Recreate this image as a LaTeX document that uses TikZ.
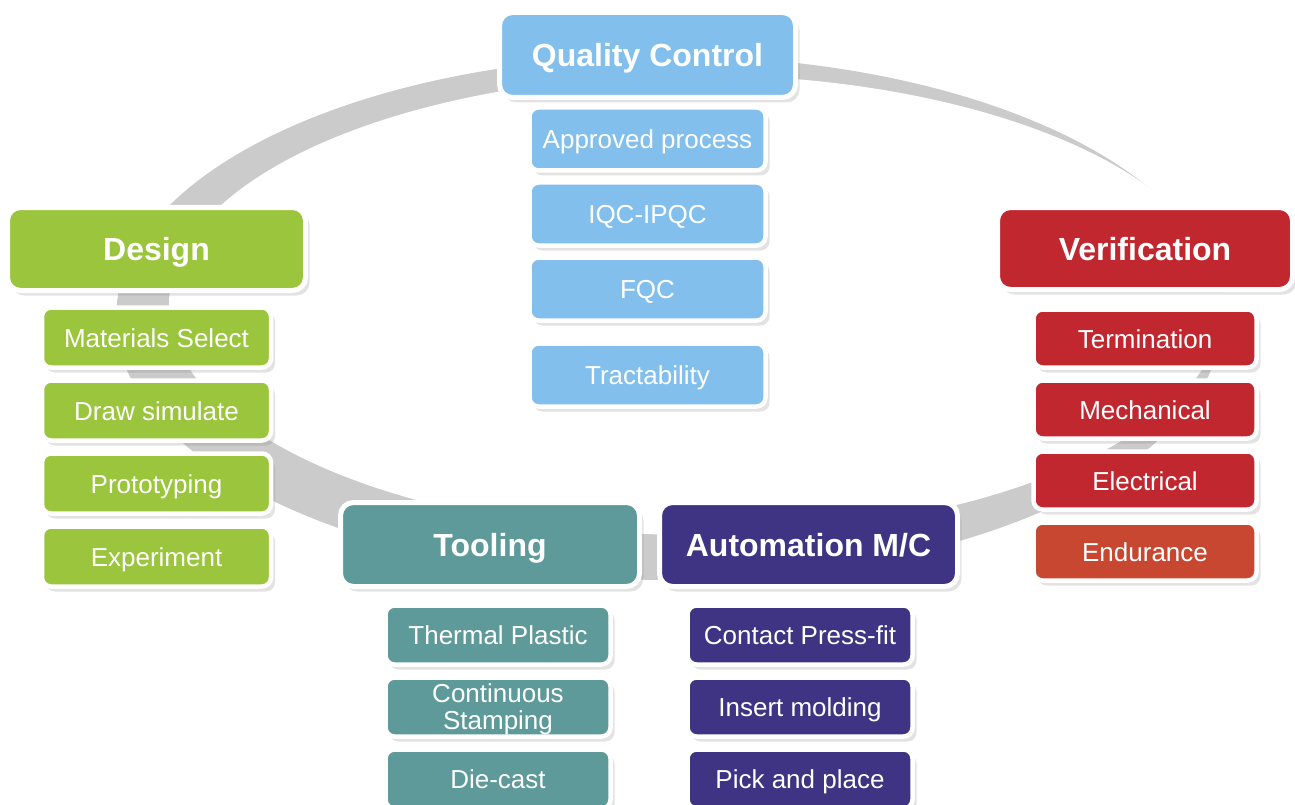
\documentclass[tikz,border=0pt]{standalone}
\usepackage{fontspec}
\setmainfont{Liberation Sans}
\usetikzlibrary{positioning,shadows}

\definecolor{dgreen}{HTML}{9AC53C}
\definecolor{qblue}{HTML}{82BFEC}
\definecolor{vred}{HTML}{C1272F}
\definecolor{eorange}{HTML}{C84731}
\definecolor{tteal}{HTML}{5E9A99}
\definecolor{apurple}{HTML}{3E3483}
\definecolor{ringgray}{HTML}{CBCBCB}

\begin{document}
\begin{tikzpicture}[x=1pt,y=-1pt,node distance=13pt,
    box shadow/.style={drop shadow={shadow xshift=4pt,shadow yshift=-5pt,opacity=0.22}},
    main box/.style={rectangle,rounded corners=13pt,draw=white,line width=5pt,fill=#1,
      text=white,font=\fontsize{32}{36}\selectfont\bfseries,text height=23pt,text depth=0pt,
      inner sep=0pt,outer sep=0pt,box shadow},
    sub box/.style={rectangle,rounded corners=9pt,draw=white,line width=4.5pt,fill=#1,
      text=white,font=\fontsize{26}{27}\selectfont,align=center,text height=19pt,text depth=0pt,
      inner sep=0pt,outer sep=0pt,box shadow},
    d sub/.style={sub box=dgreen,minimum width=229pt,minimum height=60pt},
    q sub/.style={sub box=qblue,minimum width=236pt,minimum height=63pt},
    v sub/.style={sub box=vred,minimum width=223pt,minimum height=58pt},
    t sub/.style={sub box=tteal,minimum width=225pt,minimum height=59pt},
    a sub/.style={sub box=apurple,minimum width=225pt,minimum height=59pt}]

  \useasboundingbox (0,0) rectangle (1295,805);

  % grey ring behind the boxes
  \fill[ringgray] (669,318) ellipse [x radius=553pt,y radius=262pt];
  \fill[white] (696,305) ellipse [x radius=527pt,y radius=230pt];

  % quality control
  \node[main box=qblue,minimum width=296pt,minimum height=85pt] (q) at (647.5,55) {Quality Control};
  \node[q sub] (q1) [below=10pt of q] {Approved process};
  \node[q sub] (q2) [below=12pt of q1] {IQC-IPQC};
  \node[q sub] (q3) [below=12pt of q2] {FQC};
  \node[q sub] (q4) [below=23pt of q3] {Tractability};

  % design
  \node[main box=dgreen,minimum width=298pt,minimum height=83pt] (d) at (156.5,249) {Design};
  \node[d sub] (d1) [below=17pt of d] {Materials Select};
  \node[d sub] (d2) [below=13pt of d1] {Draw simulate};
  \node[d sub] (d3) [below=13pt of d2] {Prototyping};
  \node[d sub] (d4) [below=13pt of d3] {Experiment};

  % verification
  \node[main box=vred,minimum width=295pt,minimum height=82pt] (v) at (1145,248.5) {Verification};
  \node[v sub] (v1) [below=20pt of v] {Termination};
  \node[v sub] (v2) [below=13pt of v1] {Mechanical};
  \node[v sub] (v3) [below=13pt of v2] {Electrical};
  \node[v sub,fill=eorange] (v4) [below=13pt of v3] {Endurance};

  % tooling
  \node[main box=tteal,minimum width=299pt,minimum height=84pt] (t) at (490,544.5) {Tooling};
  \node[t sub] (t1) [below=19pt of t,xshift=8pt] {Thermal Plastic};
  \node[t sub,text height=] (t2) [below=13pt of t1] {Continuous\\Stamping};
  \node[t sub] (t3) [below=13pt of t2] {Die-cast};

  % automation
  \node[main box=apurple,minimum width=298pt,minimum height=84pt] (a) at (808.5,544.5) {Automation M/C};
  \node[a sub] (a1) [below=19pt of a,xshift=-8.5pt] {Contact Press-fit};
  \node[a sub] (a2) [below=13pt of a1] {Insert molding};
  \node[a sub] (a3) [below=13pt of a2] {Pick and place};
\end{tikzpicture}
\end{document}
